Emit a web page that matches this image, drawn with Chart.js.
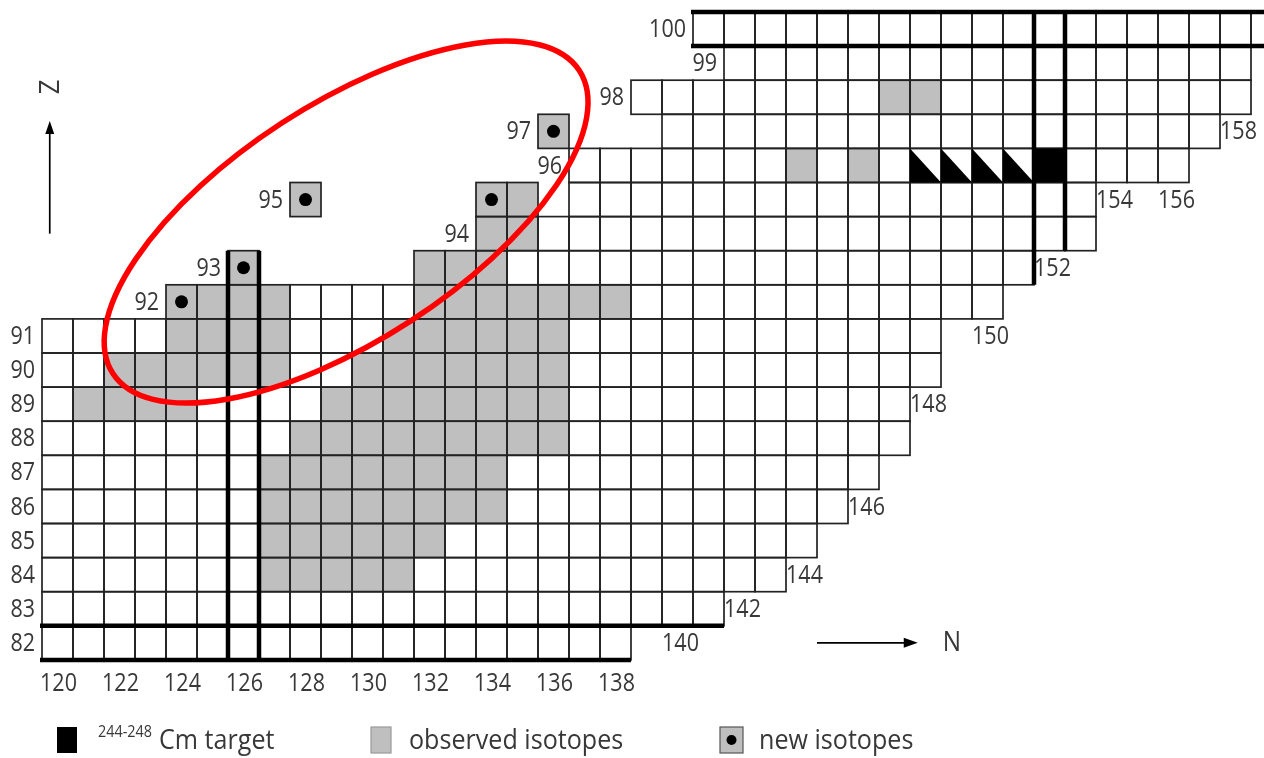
<!DOCTYPE html>
<html>
<head>
<meta charset="utf-8">
<script src="https://cdn.jsdelivr.net/npm/chart.js@4.4.1/dist/chart.umd.min.js"></script>
<style>
  html, body { margin: 0; padding: 0; background: #fff; overflow: hidden; }
  #wrap { width: 1264px; height: 758px; }
</style>
</head>
<body>
<div id="wrap"><canvas id="chart" width="1264" height="758"></canvas></div>
<script>
// Proton number of every row, bottom to top
const rowZ = [82, 83, 84, 85, 86, 87, 88, 89, 90, 91, 92, 93, 94, 95, 96, 97, 98, 99, 100];
// Neutron-number spans [from, to] of the known nuclides in each row
const rowSpans = [
  [[120, 138]],
  [[120, 141]],
  [[120, 143]],
  [[120, 144]],
  [[120, 145]],
  [[120, 146]],
  [[120, 147]],
  [[120, 147]],
  [[120, 148]],
  [[120, 148]],
  [[124, 150]],
  [[126, 126], [132, 151]],
  [[134, 153]],
  [[128, 128], [134, 135], [137, 153]],
  [[137, 156]],
  [[136, 136], [140, 157]],
  [[139, 158]],
  [[142, 158]],
  [[141, 159]]
];
// Isotopes observed in the experiment: [Z, N from, N to]
const observedRuns = [
  [84, 127, 131], [85, 127, 132], [86, 127, 134], [87, 127, 134], [88, 128, 136],
  [89, 121, 124], [89, 129, 136], [90, 122, 127], [90, 130, 136],
  [91, 124, 127], [91, 131, 136], [92, 124, 127], [92, 132, 138],
  [93, 126, 126], [93, 132, 134], [94, 134, 135], [95, 128, 128], [95, 134, 135],
  [96, 144, 144], [96, 146, 146], [97, 136, 136], [98, 147, 148]
];
// New isotopes
const newZ = [92, 93, 95, 95, 97];
const newN = [124, 126, 128, 134, 136];
// 244-248Cm target nuclides (Z = 96)
const targetZ = 96;
const targetN = [148, 149, 150, 151, 152];
const targetMark = ['tri', 'tri', 'tri', 'tri', 'full'];
// Closed shells drawn with heavy lines
const magicN = [126, 152];
const magicZ = [82, 100];
// Neutron-number ticks along the bottom
const nTicks = [120, 122, 124, 126, 128, 130, 132, 134, 136, 138];
// Neutron numbers written at the end of rows: [N, Z]
const edgeLabels = [[140, 82], [142, 83], [144, 84], [146, 86], [148, 89], [150, 91], [152, 93], [154, 95], [156, 95], [158, 97]];
// Highlighted region of the new isotopes: centre (N, Z), half-axes in neutron units, tilt in degrees
const focusCentre = [129.31, 94.34];
const focusAxes = [8.97, 3.81];
const focusTilt = 33;

const FONT = '"Open Sans", "Liberation Sans", sans-serif';
const TEXT = '#383838';
const GRAY = '#bfbfbf';

function hasCell(z, n) {
  const i = rowZ.indexOf(z);
  if (i < 0) return false;
  return rowSpans[i].some(([a, b]) => n >= a && n <= b);
}

function text(ctx, str, x, y, size, align, squeeze) {
  ctx.save();
  ctx.font = size + 'px ' + FONT;
  ctx.textBaseline = 'middle';
  ctx.fillStyle = TEXT;
  ctx.translate(x, y);
  ctx.scale(squeeze, 1);
  ctx.textAlign = align;
  ctx.fillText(str, 0, 0);
  ctx.restore();
}

const nuclidePlugin = {
  id: 'nuclideChart',
  beforeDatasetsDraw(chart) {
    const { ctx, scales: { x, y } } = chart;
    const L = n => x.getPixelForValue(n - 0.5);
    const R = n => x.getPixelForValue(n + 0.5);
    const T = z => y.getPixelForValue(z + 0.5);
    const B = z => y.getPixelForValue(z - 0.5);
    ctx.save();
    // white cells
    rowZ.forEach((z, i) => rowSpans[i].forEach(([a, b]) => {
      ctx.fillStyle = '#fff';
      ctx.fillRect(L(a), T(z), R(b) - L(a), B(z) - T(z));
    }));
    // observed isotopes
    ctx.fillStyle = GRAY;
    observedRuns.forEach(([z, a, b]) => ctx.fillRect(L(a), T(z), R(b) - L(a), B(z) - T(z)));
    // cell borders
    ctx.strokeStyle = '#222';
    ctx.lineWidth = 1.7;
    rowZ.forEach((z, i) => rowSpans[i].forEach(([a, b]) => {
      for (let n = a; n <= b; n++) ctx.strokeRect(L(n), T(z), R(n) - L(n), B(z) - T(z));
    }));
    // target nuclides
    ctx.fillStyle = '#000';
    targetN.forEach((n, k) => {
      const x0 = L(n), x1 = R(n), y0 = T(targetZ), y1 = B(targetZ);
      ctx.beginPath();
      if (targetMark[k] === 'full') {
        ctx.rect(x0, y0, x1 - x0, y1 - y0);
      } else {
        ctx.moveTo(x0, y0); ctx.lineTo(x0, y1); ctx.lineTo(x1, y1); ctx.closePath();
      }
      ctx.fill();
    });
    // closed shells
    ctx.strokeStyle = '#000';
    ctx.lineWidth = 4.5;
    magicN.forEach(m => [m - 0.5, m + 0.5].forEach(edge => {
      const zs = rowZ.filter(z => hasCell(z, Math.floor(edge)) || hasCell(z, Math.ceil(edge)));
      const zlo = Math.min(...zs), zhi = Math.max(...zs);
      ctx.beginPath();
      ctx.moveTo(x.getPixelForValue(edge), B(zlo));
      ctx.lineTo(x.getPixelForValue(edge), T(zhi));
      ctx.stroke();
    }));
    magicZ.forEach(m => [m - 0.5, m + 0.5].forEach(edge => {
      const ns = [];
      for (let n = 110; n <= 170; n++) if (hasCell(Math.floor(edge), n) || hasCell(Math.ceil(edge), n)) ns.push(n);
      const nlo = Math.min(...ns), nhi = Math.max(...ns);
      ctx.beginPath();
      ctx.moveTo(L(nlo) - 2, y.getPixelForValue(edge));
      ctx.lineTo(R(nhi), y.getPixelForValue(edge));
      ctx.stroke();
    }));
    ctx.restore();
  },
  afterDatasetsDraw(chart) {
    const { ctx, scales: { x, y } } = chart;
    const C = n => x.getPixelForValue(n);
    const M = z => y.getPixelForValue(z);
    const unitX = x.getPixelForValue(1) - x.getPixelForValue(0);
    ctx.save();
    // proton-number labels left of each row
    rowZ.forEach((z, i) => {
      const first = rowSpans[i][0][0];
      text(ctx, String(z), x.getPixelForValue(first - 0.5) - 7, M(z) + 1, 25, 'right', 0.86);
    });
    // neutron-number ticks
    nTicks.forEach(n => text(ctx, String(n), C(n) + 1, M(81.5) + 24, 25, 'center', 0.86));
    // row-end neutron numbers
    edgeLabels.forEach(([n, z]) => text(ctx, String(n), C(n) + 3, M(z) + 1, 25, 'center', 0.86));

    // highlight ellipse round the new isotopes
    ctx.strokeStyle = '#ff0000';
    ctx.lineWidth = 5.5;
    ctx.beginPath();
    ctx.ellipse(C(focusCentre[0]), M(focusCentre[1]), focusAxes[0] * unitX, focusAxes[1] * unitX,
      -focusTilt * Math.PI / 180, 0, Math.PI * 2);
    ctx.stroke();

    // axis arrows
    const area = chart.chartArea;
    ctx.strokeStyle = '#000';
    ctx.fillStyle = '#000';
    ctx.lineWidth = 1.7;
    const zx = C(119.75), zTop = M(97.3), zBot = M(94.0);
    ctx.beginPath(); ctx.moveTo(zx, zBot); ctx.lineTo(zx, zTop + 8); ctx.stroke();
    ctx.beginPath(); ctx.moveTo(zx, zTop); ctx.lineTo(zx - 4.5, zTop + 13); ctx.lineTo(zx + 4.5, zTop + 13); ctx.closePath(); ctx.fill();
    ctx.save();
    ctx.translate(zx + 2, M(98.3));
    ctx.rotate(-Math.PI / 2);
    text(ctx, 'Z', 0, 0, 27, 'center', 0.95);
    ctx.restore();
    const ny = M(82), nL = C(144.5), nR = C(147.75);
    ctx.beginPath(); ctx.moveTo(nL, ny); ctx.lineTo(nR - 10, ny); ctx.stroke();
    ctx.beginPath(); ctx.moveTo(nR, ny); ctx.lineTo(nR - 14, ny - 5); ctx.lineTo(nR - 14, ny + 5); ctx.closePath(); ctx.fill();
    text(ctx, 'N', C(148.85), ny, 27, 'center', 0.9);

    // legend
    const ly = area.bottom - 18;
    ctx.fillStyle = '#000';
    ctx.fillRect(57, ly - 13, 20, 26);
    text(ctx, '244-248', 98, ly - 8, 16, 'left', 0.9);
    text(ctx, 'Cm target', 159, ly + 1, 27, 'left', 0.93);
    ctx.fillStyle = GRAY;
    ctx.fillRect(371, ly - 13, 20, 26);
    ctx.strokeStyle = '#9a9a9a'; ctx.lineWidth = 1.2;
    ctx.strokeRect(371, ly - 13, 20, 26);
    text(ctx, 'observed isotopes', 409, ly + 1, 27, 'left', 0.93);
    ctx.fillStyle = GRAY;
    ctx.fillRect(720, ly - 13, 23, 26);
    ctx.strokeStyle = '#555'; ctx.strokeRect(720, ly - 13, 23, 26);
    ctx.fillStyle = '#000';
    ctx.beginPath(); ctx.arc(731.5, ly, 5, 0, Math.PI * 2); ctx.fill();
    text(ctx, 'new isotopes', 759, ly + 1, 27, 'left', 0.93);
    ctx.restore();
  }
};

// Axis limits: one neutron number per 31 px, one proton number per 34.1 px
const xMin = 119.5 - 42 / 31, xMax = xMin + 1264 / 31;
const yMax = 100.5 + 12 / 34.1, yMin = yMax - 758 / 34.1;

new Chart(document.getElementById('chart'), {
  type: 'scatter',
  data: {
    datasets: [{
      label: 'new isotopes',
      data: newN.map((n, i) => ({ x: n, y: newZ[i] })),
      pointRadius: 6.5,
      pointHoverRadius: 6.5,
      backgroundColor: '#000',
      borderWidth: 0
    }]
  },
  options: {
    responsive: false,
    animation: false,
    events: [],
    layout: { padding: 0, autoPadding: false },
    plugins: { legend: { display: false }, tooltip: { enabled: false } },
    scales: {
      x: { type: 'linear', display: false, min: xMin, max: xMax },
      y: { type: 'linear', display: false, min: yMin, max: yMax }
    }
  },
  plugins: [nuclidePlugin]
});
</script>
</body>
</html>
